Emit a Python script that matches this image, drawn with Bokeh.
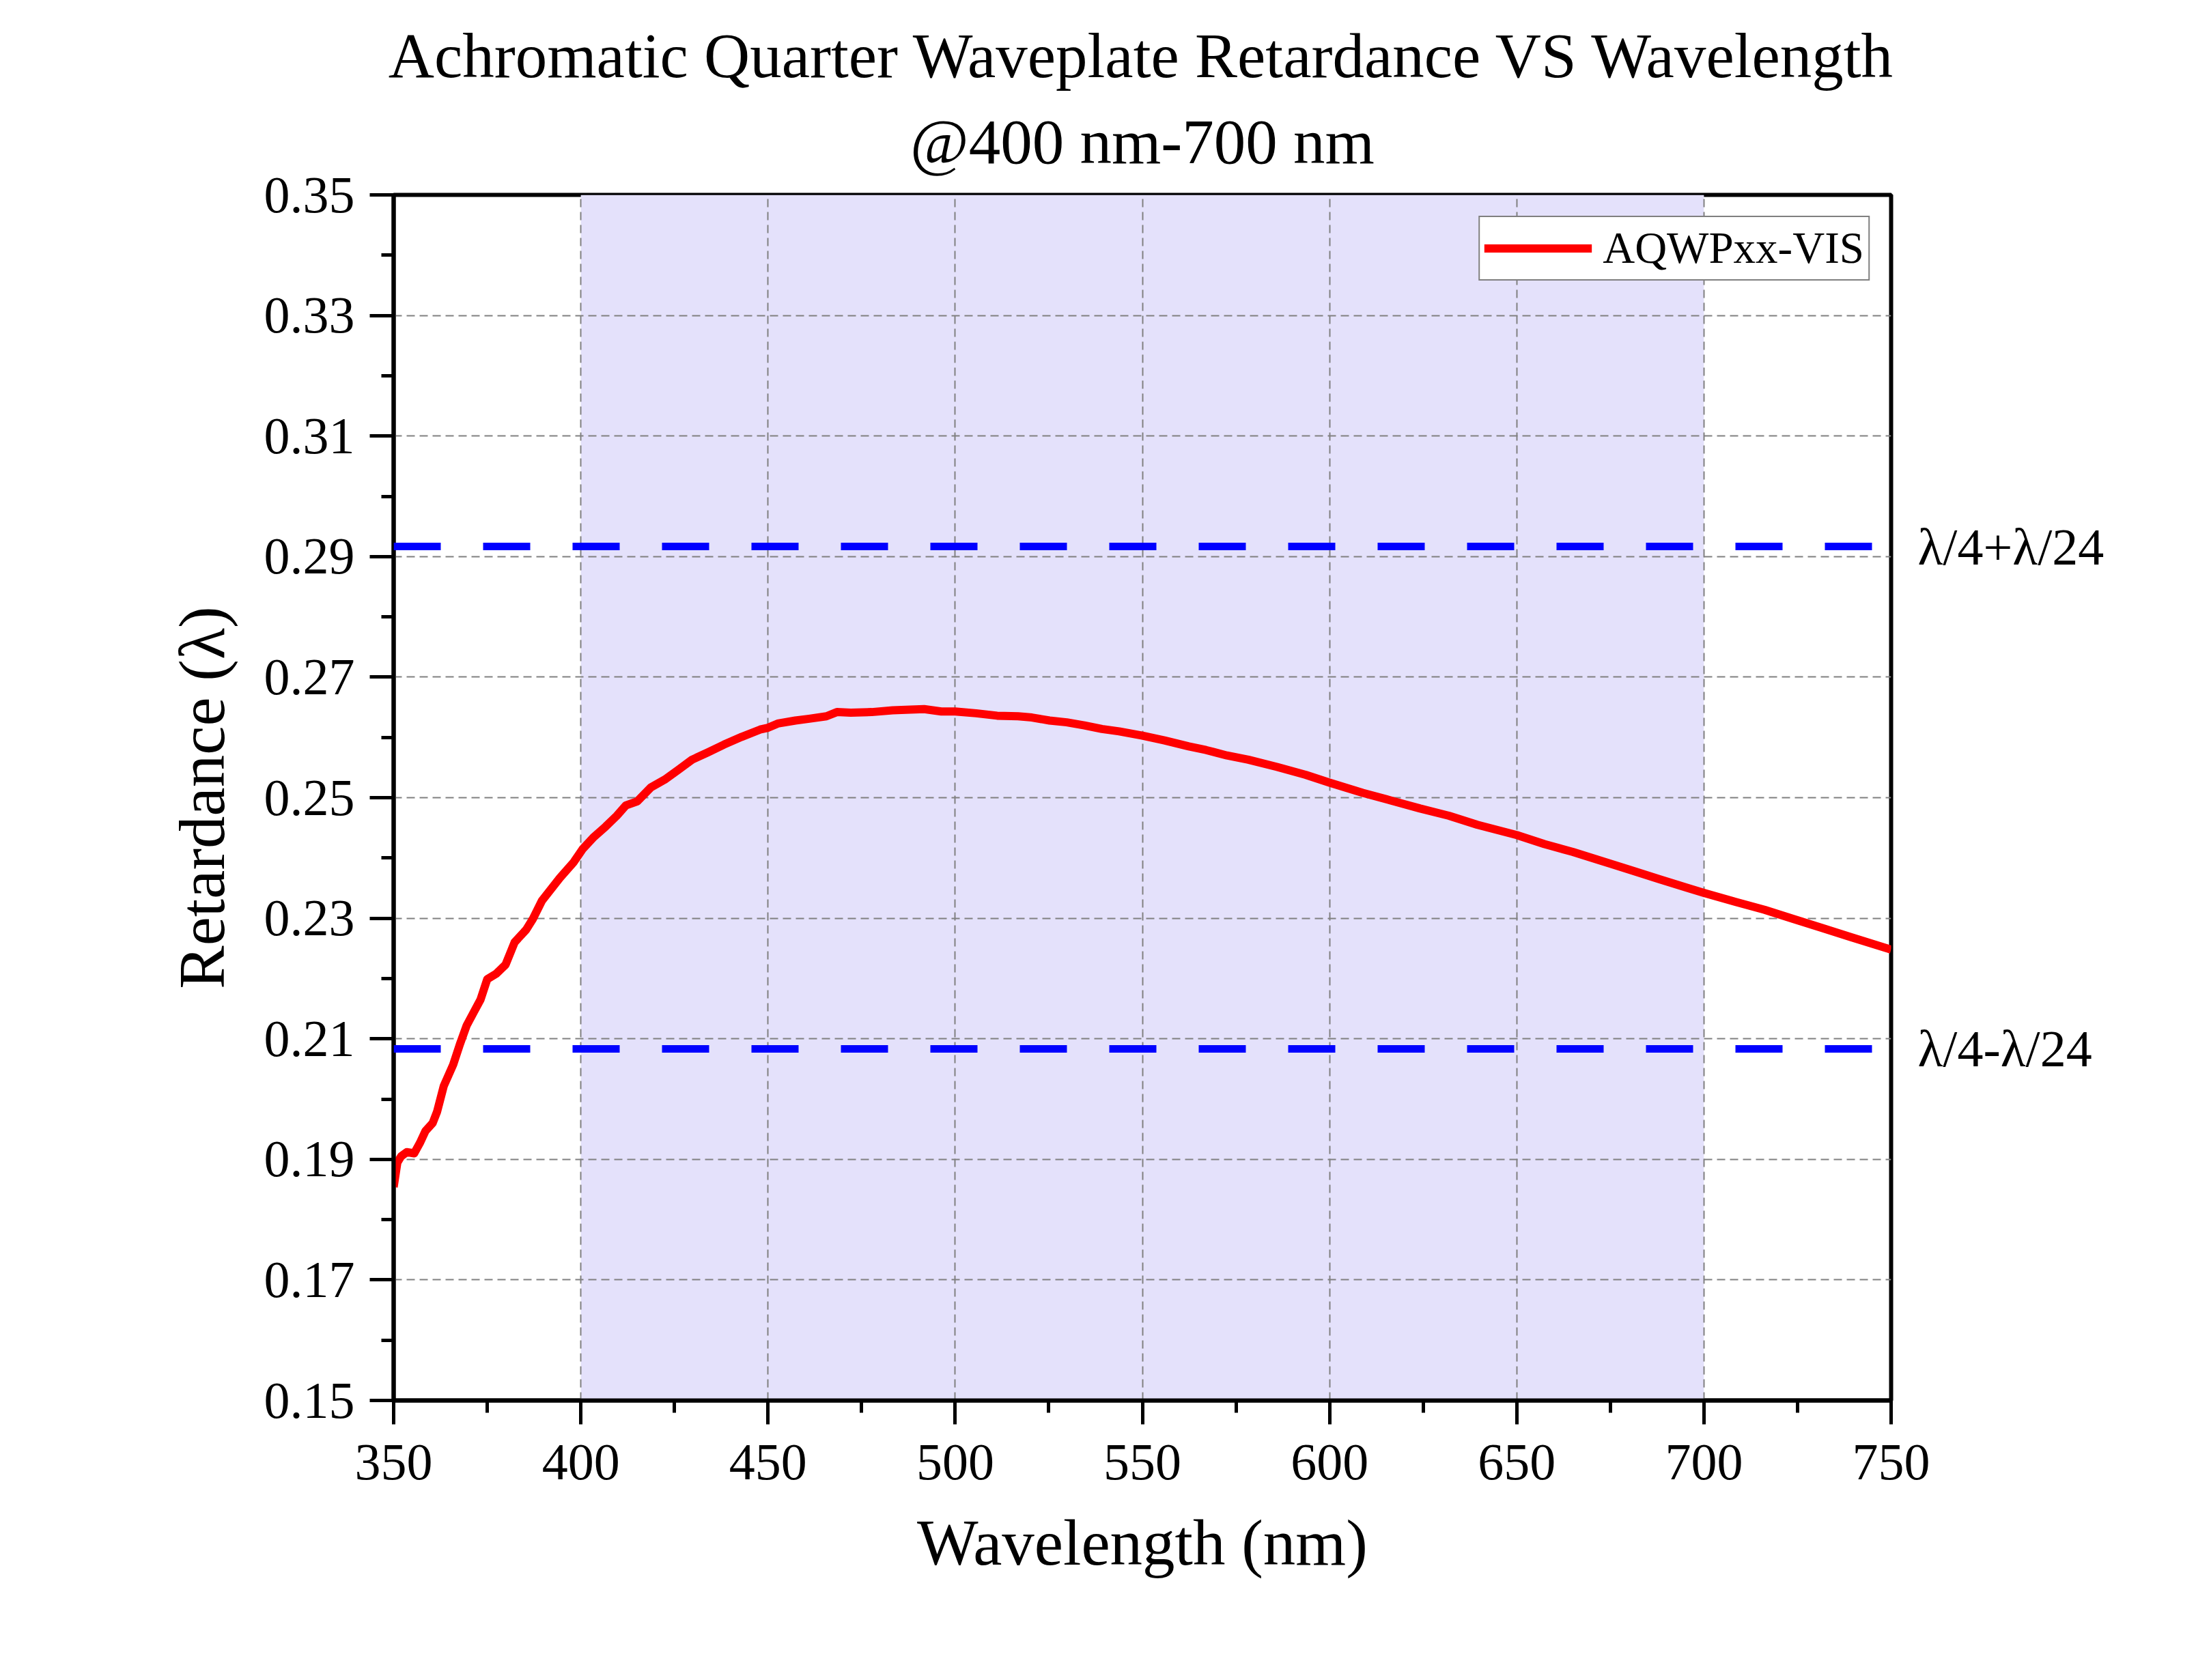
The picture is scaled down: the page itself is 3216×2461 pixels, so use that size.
from bokeh.plotting import figure
from bokeh.models import (FixedTicker, PrintfTickFormatter, BoxAnnotation, Span,
                          Legend, LegendItem, Range1d, LinearAxis, Title,
                          CustomJSTickFormatter)
from bokeh.embed import file_html
from bokeh.resources import INLINE

# ---------------- data ----------------
wavelength = [350, 351, 352, 353.5, 355.5, 357, 358.5, 360.4, 361.6, 363.4,
              365.9, 367.7, 369.5, 371.3, 373.2, 375, 377.4, 379.9, 382.3, 385.4,
              387.2, 389.6, 394.4, 398.1, 400.5, 403.5, 406.6, 409.6, 412, 415.1,
              418.7, 422.4, 426, 429.7, 433.9, 438.2, 443, 447.9, 450, 452.6,
              457.3, 461, 465.6, 468.4, 472.1, 477.7, 483.3, 488, 491.7, 496.3,
              500, 505.6, 511.2, 516.8, 520.5, 525.2, 529.8, 534.5, 539.2, 543.8,
              550, 555.9, 562.4, 567, 572.6, 578.3, 586, 593.6, 600, 608.9,
              616.6, 624.2, 631.9, 639.5, 650, 657.4, 665, 672.7, 680.4, 688,
              695.8, 700, 708.5, 716.2, 723.8, 731.5, 739.1, 750]
retardance = [0.1854, 0.1895, 0.1905, 0.1912, 0.1910, 0.1927, 0.1947, 0.1960, 0.1979, 0.2022,
              0.2057, 0.2091, 0.2122, 0.2143, 0.2165, 0.2199, 0.2208, 0.2223, 0.2260, 0.2281,
              0.2299, 0.2329, 0.2367, 0.2393, 0.2415, 0.2435, 0.2452, 0.2470, 0.2487, 0.2494,
              0.2517, 0.2530, 0.2546, 0.2563, 0.2575, 0.2588, 0.2601, 0.2613, 0.2616, 0.2623,
              0.2628, 0.2631, 0.2635, 0.2642, 0.2641, 0.2642, 0.2645, 0.2646, 0.2647, 0.2643,
              0.2643, 0.2640, 0.2636, 0.2635, 0.2633, 0.2628, 0.2625, 0.2620, 0.2614, 0.2610,
              0.2603, 0.2595, 0.2585, 0.2579, 0.2570, 0.2563, 0.2551, 0.2538, 0.2525, 0.2508,
              0.2495, 0.2482, 0.2470, 0.2455, 0.2438, 0.2423, 0.2410, 0.2395, 0.2380, 0.2365,
              0.2350, 0.2342, 0.2327, 0.2314, 0.2299, 0.2284, 0.2269, 0.2248]

series_name = "AQWPxx-VIS"
x_ticks = [350, 400, 450, 500, 550, 600, 650, 700, 750]
x_minor = [375, 425, 475, 525, 575, 625, 675, 725]
y_ticks = [0.15, 0.17, 0.19, 0.21, 0.23, 0.25, 0.27, 0.29, 0.31, 0.33, 0.35]
y_minor = [0.16, 0.18, 0.20, 0.22, 0.24, 0.26, 0.28, 0.30, 0.32, 0.34]
band = [400, 700]
bounds = [0.25 + 1 / 24, 0.25 - 1 / 24]
bound_labels = ["λ/4+λ/24", "λ/4-λ/24"]
title_lines = ["Achromatic Quarter Waveplate Retardance VS Wavelength", "@400 nm-700 nm"]
x_title = "Wavelength (nm)"
y_title = "Retardance (λ)"

FONT = "Liberation Serif"

p = figure(width=3208, height=2453, output_backend="svg", toolbar_location=None,
           title=None,
           x_range=Range1d(350, 750), y_range=Range1d(0.15, 0.35),
           min_border_left=576, min_border_right=439,
           min_border_top=285, min_border_bottom=402,
           background_fill_color="white", border_fill_color="white")

# shaded band (below grid)
p.add_layout(BoxAnnotation(left=band[0], right=band[1], fill_color="#E4E1FB",
                           fill_alpha=1.0, line_alpha=0, level="image"))

# axes / ticks
xt = FixedTicker(ticks=x_ticks, minor_ticks=x_minor)
yt = FixedTicker(ticks=y_ticks, minor_ticks=y_minor)
p.xaxis.ticker = xt
p.yaxis.ticker = yt
p.xgrid.ticker = xt
p.ygrid.ticker = yt
p.yaxis.formatter = PrintfTickFormatter(format="%.2f")

for ax in (p.xaxis[0], p.yaxis[0]):
    ax.axis_line_width = 6
    ax.axis_line_color = "black"
    ax.major_tick_line_width = 5
    ax.minor_tick_line_width = 5
    ax.major_tick_line_color = "black"
    ax.minor_tick_line_color = "black"
    ax.major_tick_in = 0
    ax.major_tick_out = 35
    ax.minor_tick_in = 0
    ax.minor_tick_out = 18
    ax.major_label_text_font = FONT
    ax.major_label_text_font_size = "76px"
    ax.major_label_text_color = "black"
    ax.axis_label_text_font = FONT
    ax.axis_label_text_font_size = "95px"
    ax.axis_label_text_font_style = "normal"
    ax.axis_label_text_color = "black"

p.xaxis.axis_label = x_title
p.yaxis.axis_label = y_title
p.xaxis.major_label_standoff = 30
p.xaxis.axis_label_standoff = 37
p.yaxis.major_label_standoff = 22
p.yaxis.axis_label_standoff = 35

for g in (p.xgrid[0], p.ygrid[0]):
    g.grid_line_color = "#808080"
    g.grid_line_width = 2
    g.grid_line_dash = "12 7"

p.outline_line_color = "black"
p.outline_line_width = 6
p.outline_line_alpha = 1.0

# bound lines
for b in bounds:
    p.add_layout(Span(location=b, dimension="width", line_color="#0000FF",
                      line_width=11, line_dash="69 62"))

# right-side labels for the bound lines
rax = LinearAxis(ticker=FixedTicker(ticks=bounds, minor_ticks=[]),
                 formatter=CustomJSTickFormatter(
                     args=dict(vals=bounds, labels=bound_labels),
                     code="""
let best = 0; let d = 1e9;
for (let k = 0; k < vals.length; k++) {
  const e = Math.abs(vals[k] - tick);
  if (e < d) { d = e; best = k; }
}
return labels[best];
"""))
rax.axis_line_alpha = 0
rax.major_tick_in = 0
rax.major_tick_out = 0
rax.minor_tick_in = 0
rax.minor_tick_out = 0
rax.major_tick_line_alpha = 0
rax.minor_tick_line_alpha = 0
rax.major_label_standoff = 39
rax.major_label_text_font = FONT
rax.major_label_text_font_size = "76px"
rax.major_label_text_color = "black"
p.add_layout(rax, "right")

# curve
r = p.line(wavelength, retardance, line_color="#FF0000", line_width=12,
           line_join="round")

legend = Legend(items=[LegendItem(label=series_name, renderers=[r])],
                location="top_right", margin=31, padding=6,
                glyph_width=158, glyph_height=79, label_height=79,
                label_standoff=16, label_text_font=FONT,
                label_text_font_size="65px", label_text_color="black",
                border_line_color="black", border_line_width=2,
                background_fill_color="white", background_fill_alpha=1.0)
p.add_layout(legend)

# title lines (first added sits closest to the frame)
p.add_layout(Title(text=title_lines[1], align="center", text_font=FONT,
                   text_font_size="93px", text_font_style="normal",
                   text_color="black", standoff=54), "above")
p.add_layout(Title(text=title_lines[0], align="center", text_font=FONT,
                   text_font_size="93px", text_font_style="normal",
                   text_color="black", standoff=-12), "above")

open("out.html", "w").write(file_html(p, INLINE))
